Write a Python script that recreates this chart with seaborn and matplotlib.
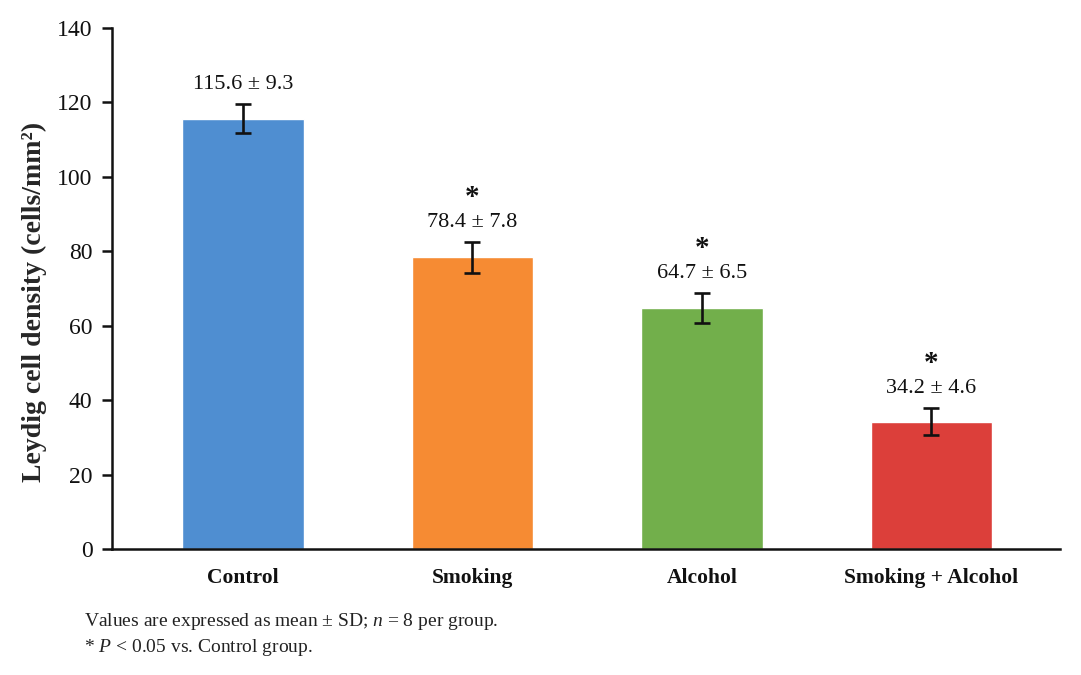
import numpy as np
import pandas as pd
import matplotlib
matplotlib.use("Agg")
import matplotlib.pyplot as plt
import seaborn as sns

# Group data: mean Leydig cell density, SD stated in labels, drawn error-bar half-length
groups = ["Control", "Smoking", "Alcohol", "Smoking + Alcohol"]
means = [115.6, 78.4, 64.7, 34.2]
sds = [9.3, 7.8, 6.5, 4.6]
err_half = [3.9, 4.2, 4.0, 3.7]
significant = [False, True, True, True]
bar_colors = ["#4F8ED1", "#F68B33", "#72AF4B", "#DC3F3A"]
y_ticks = [0, 20, 40, 60, 80, 100, 120, 140]

sns.set_theme(style="white")
plt.rcParams["font.family"] = ["Liberation Serif", "DejaVu Serif"]
plt.rcParams["mathtext.fontset"] = "custom"
plt.rcParams["mathtext.rm"] = "Liberation Serif"
plt.rcParams["mathtext.it"] = "Liberation Serif:italic"

fig = plt.figure(figsize=(10.81, 6.75), dpi=100)
ax = fig.add_axes([0.1036, 0.1867, 0.877, 0.7718])

df = pd.DataFrame({"group": groups, "mean": means})
sns.barplot(data=df, x="group", y="mean", hue="group", palette=bar_colors,
            width=0.53, errorbar=None, legend=False, ax=ax, saturation=1)

xpos = np.arange(len(groups))
ax.errorbar(xpos, means, yerr=err_half, fmt="none", ecolor="#111111",
            elinewidth=1.9, capsize=5.5, capthick=1.9, zorder=5)

# Value labels and significance markers above each bar
for x, m, sd, e, sig in zip(xpos, means, sds, err_half, significant):
    top = m + e
    ax.annotate(f"{m:.1f} ± {sd:.1f}", xy=(x, top), xytext=(0, 14),
                textcoords="offset points", ha="center", va="center",
                fontsize=16, color="#111111")
    if sig:
        ax.annotate("*", xy=(x, top), xytext=(0, 32),
                    textcoords="offset points", ha="center", va="center",
                    fontsize=21, fontweight="bold", color="#111111")

ax.set_ylim(0, 140)
ax.set_xlim(-0.57, 3.56)
ax.set_yticks(y_ticks)
ax.set_yticklabels([str(t) for t in y_ticks], fontsize=17)
ax.set_xticks(xpos)
ax.set_xticklabels(groups, fontsize=15.5, fontweight="bold")
ax.set_xlabel("")
ax.set_ylabel("Leydig cell density (cells/mm²)", fontsize=20,
              fontweight="bold")
ax.yaxis.set_label_coords(-0.069, 0.474)

for side in ["top", "right"]:
    ax.spines[side].set_visible(False)
for side in ["left", "bottom"]:
    ax.spines[side].set_color("#111111")
    ax.spines[side].set_linewidth(1.8)

ax.tick_params(axis="y", which="major", direction="out", length=7, width=1.8,
               color="#111111", left=True, pad=7, labelcolor="#111111")
ax.tick_params(axis="x", which="major", length=0, pad=14, labelcolor="#111111")

fig.text(0.078, 1 - 622 / 675, "Values are expressed as mean ± SD; $n$ = 8 per group.",
         fontsize=14, ha="left", va="center", color="#222222")
fig.text(0.078, 1 - 647 / 675, "* $P$ < 0.05 vs. Control group.",
         fontsize=14, ha="left", va="center", color="#222222")

fig.savefig("out.png", dpi=100, facecolor="white")
